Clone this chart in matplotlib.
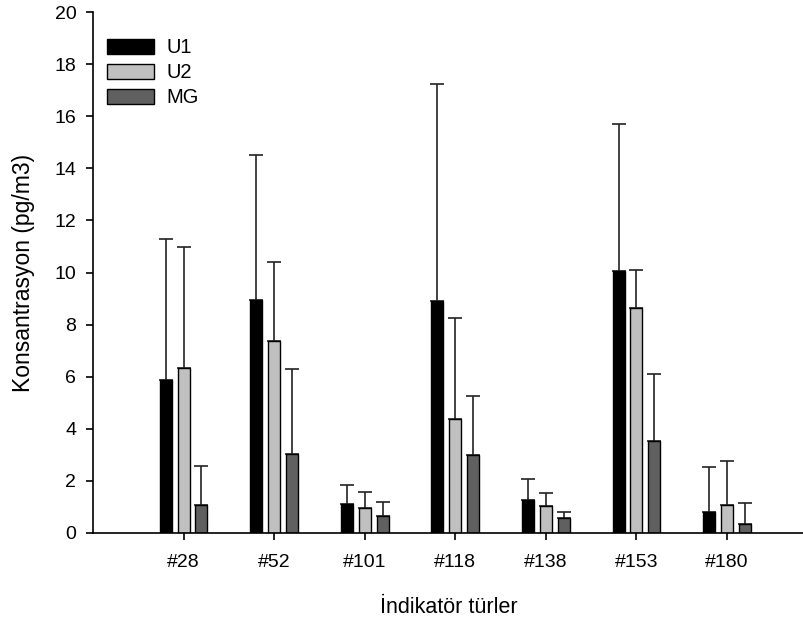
import numpy as np
import matplotlib
matplotlib.use("Agg")
import matplotlib.pyplot as plt

plt.rcParams["font.family"] = ["Liberation Sans", "DejaVu Sans"]

# Data
species = ["#28", "#52", "#101", "#118", "#138", "#153", "#180"]
u1 = [5.86, 8.93, 1.09, 8.92, 1.26, 10.07, 0.78]
u1_err = [5.43, 5.59, 0.73, 8.34, 0.79, 5.65, 1.76]
u2 = [6.32, 7.37, 0.96, 4.37, 1.04, 8.62, 1.06]
u2_err = [4.67, 3.03, 0.62, 3.87, 0.49, 1.49, 1.71]
mg = [1.05, 3.02, 0.65, 2.99, 0.55, 3.54, 0.35]
mg_err = [1.50, 3.27, 0.52, 2.28, 0.26, 2.55, 0.80]

series = [
    ("U1", u1, u1_err, "#000000"),
    ("U2", u2, u2_err, "#c0c0c0"),
    ("MG", mg, mg_err, "#606060"),
]

fig = plt.figure(figsize=(8.04, 6.23), dpi=100)
ax = fig.add_axes([0.1157, 0.1449, 0.8843, 0.8354])

x = np.arange(len(species))
step = 0.197
width = 0.133

for i, (name, vals, errs, color) in enumerate(series):
    pos = x + (i - 1) * step
    ax.bar(pos, vals, width, color=color, edgecolor="black",
           linewidth=1.0, label=name, zorder=2)
    ax.errorbar(pos, vals, yerr=[np.zeros(len(errs)), errs], fmt="none",
                ecolor="#222222", elinewidth=1.2, capsize=5,
                capthick=1.2, zorder=1)

ax.set_xlim(-1.0, 6.85)
ax.set_ylim(0, 20)
ax.set_yticks(range(0, 21, 2))
ax.set_xticks(x)
ax.set_xticklabels(species)

for s in ["top", "right"]:
    ax.spines[s].set_visible(False)
for s in ["left", "bottom"]:
    ax.spines[s].set_linewidth(1.2)

ax.tick_params(axis="both", direction="out", length=5, width=1.2,
               labelsize=14)
ax.tick_params(axis="y", pad=7)
ax.tick_params(axis="x", pad=10)

ax.set_ylabel("Konsantrasyon (pg/m3)", fontsize=16.5, labelpad=14)
ax.set_xlabel("İndikatör türler", fontsize=15.5, labelpad=19)

ax.legend(loc="upper left", bbox_to_anchor=(0.0, 0.977), frameon=False,
          fontsize=14.5, handlelength=2.35, handleheight=0.8,
          handletextpad=0.6, labelspacing=0.3, borderaxespad=0.3)

plt.savefig("out.png", dpi=100)
